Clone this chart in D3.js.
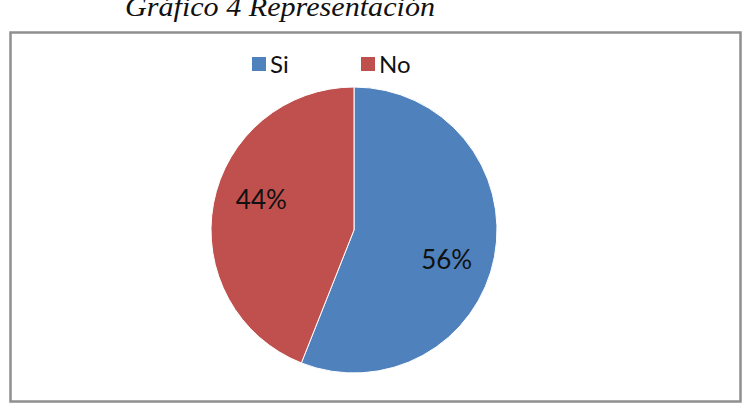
<!DOCTYPE html>
<html>
<head>
<meta charset="utf-8">
<script src="https://cdn.jsdelivr.net/npm/d3@7"></script>
<style>
  body { margin: 0; background: #fff; }
  svg { display: block; }
</style>
</head>
<body>
<svg width="745" height="413"></svg>
<script>
// data
var categories = ["Si", "No"];
var values = [56, 44];
var colors = ["#4F81BD", "#C0504D"];
var title = "Gráfico 4 Representación";

var svg = d3.select("svg");

// title, clipped at the top like the scan
svg.append("text")
    .attr("x", 125).attr("y", 16)
    .attr("textLength", 310).attr("lengthAdjust", "spacingAndGlyphs")
    .style("font-family", "'Liberation Serif', 'DejaVu Serif', serif")
    .style("font-style", "italic")
    .style("font-size", "27px")
    .style("fill", "#111")
    .text(title);

// chart frame
svg.append("rect")
    .attr("x", 10.5).attr("y", 32.5).attr("width", 730).attr("height", 369)
    .style("fill", "#fff").style("stroke", "#8f8f8f").style("stroke-width", 2.5);

var cx = 354, cy = 230, r = 143;
var total = d3.sum(values);

var pie = d3.pie().sort(null)(values);
var arc = d3.arc().innerRadius(0).outerRadius(r);
var labelArc = d3.arc().innerRadius(r * 0.68).outerRadius(r * 0.68);

var g = svg.append("g").attr("transform", "translate(" + cx + "," + cy + ")");

g.selectAll("path.slice").data(pie).enter().append("path")
    .attr("class", "slice")
    .attr("d", arc)
    .style("fill", function (d, i) { return colors[i]; })
    .style("stroke", "#fff").style("stroke-width", 1);

// excel nudges the labels a little clockwise from the slice middle
g.selectAll("text.lbl").data(pie).enter().append("text")
    .attr("class", "lbl")
    .attr("transform", function (d) {
        var c = labelArc.centroid({startAngle: d.startAngle + 0.12, endAngle: d.endAngle + 0.12});
        return "translate(" + c[0] + "," + (c[1] + 9) + ")";
    })
    .attr("text-anchor", "middle")
    .style("font-family", "Lato, 'Open Sans', sans-serif")
    .style("font-size", "26px")
    .style("fill", "#111")
    .text(function (d) { return Math.round(d.value / total * 100) + "%"; });

// legend
var legX = d3.scaleOrdinal().domain(categories).range([252, 361]);
var leg = svg.selectAll("g.leg").data(categories).enter().append("g")
    .attr("class", "leg")
    .attr("transform", function (d) { return "translate(" + legX(d) + ",57)"; });
leg.append("rect")
    .attr("width", 14).attr("height", 14)
    .style("fill", function (d, i) { return colors[i]; });
leg.append("text")
    .attr("x", 18).attr("y", 16)
    .style("font-family", "Lato, 'Open Sans', sans-serif")
    .style("font-size", "24px")
    .style("fill", "#111")
    .text(function (d) { return d; });
</script>
</body>
</html>
